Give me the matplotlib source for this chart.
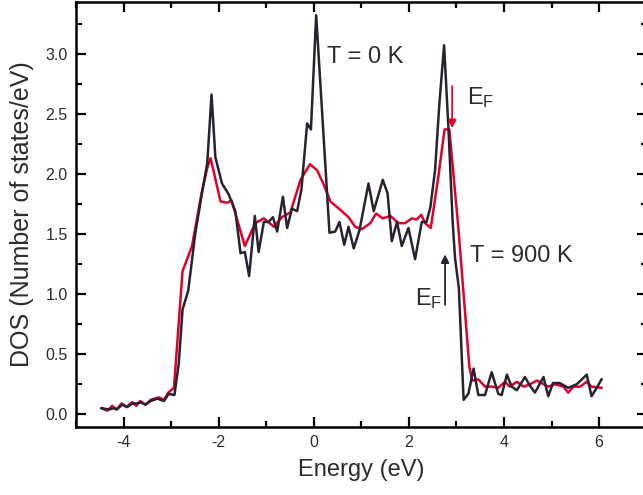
import matplotlib
matplotlib.use("Agg")
import matplotlib.pyplot as plt
from matplotlib.ticker import MultipleLocator

plt.rcParams['font.family'] = ['Liberation Sans', 'DejaVu Sans']
plt.rcParams['mathtext.fontset'] = 'custom'
plt.rcParams['mathtext.rm'] = 'Liberation Sans'
plt.rcParams['mathtext.it'] = 'Liberation Sans'
plt.rcParams['axes.unicode_minus'] = False

# T = 0 K (black)
e_0K = [-4.46, -4.31, -4.20, -4.14, -4.03, -3.92, -3.82, -3.71, -3.65, -3.54,
        -3.43, -3.29, -3.15, -3.05, -2.93, -2.84, -2.76, -2.64, -2.49, -2.35,
        -2.24, -2.15, -2.07, -1.93, -1.79, -1.65, -1.54, -1.45, -1.36, -1.24,
        -1.16, -1.05, -0.95, -0.86, -0.77, -0.65, -0.56, -0.46, -0.35, -0.26,
        -0.14, -0.06, 0.05, 0.33, 0.45, 0.54, 0.64, 0.73, 0.84, 0.96,
        1.15, 1.26, 1.45, 1.55, 1.64, 1.75, 1.85, 1.99, 2.13, 2.27,
        2.37, 2.45, 2.55, 2.64, 2.74, 2.83, 2.92, 2.97, 3.05, 3.15,
        3.25, 3.36, 3.46, 3.60, 3.74, 3.88, 3.95, 4.06, 4.16, 4.27,
        4.44, 4.54, 4.65, 4.83, 4.93, 5.03, 5.17, 5.35, 5.53, 5.74,
        5.84, 5.95, 6.05]
dos_0K = [0.05, 0.04, 0.05, 0.04, 0.08, 0.06, 0.09, 0.09, 0.10, 0.08,
          0.11, 0.13, 0.11, 0.17, 0.16, 0.42, 0.87, 1.03, 1.51, 1.84,
          2.09, 2.66, 2.14, 1.92, 1.83, 1.69, 1.34, 1.35, 1.15, 1.65,
          1.35, 1.60, 1.60, 1.64, 1.52, 1.81, 1.55, 1.71, 1.69, 1.87,
          2.42, 2.37, 3.32, 1.51, 1.52, 1.60, 1.41, 1.56, 1.38, 1.53,
          1.92, 1.69, 1.95, 1.84, 1.44, 1.60, 1.40, 1.55, 1.29, 1.60,
          1.60, 1.72, 2.03, 2.58, 3.07, 2.39, 1.60, 1.30, 1.05, 0.12,
          0.17, 0.38, 0.16, 0.16, 0.35, 0.17, 0.16, 0.33, 0.23, 0.20,
          0.31, 0.24, 0.18, 0.31, 0.15, 0.26, 0.26, 0.22, 0.25, 0.33,
          0.15, 0.22, 0.29]

# T = 900 K (red)
e_900K = [-4.46, -4.34, -4.24, -4.15, -4.04, -3.94, -3.82, -3.73, -3.65, -3.54,
          -3.43, -3.26, -3.15, -3.06, -2.94, -2.76, -2.56, -2.36, -2.24, -2.17,
          -1.96, -1.82, -1.73, -1.45, -1.23, -1.05, -0.84, -0.67, -0.49, -0.28,
          -0.08, 0.07, 0.21, 0.35, 0.56, 0.73, 0.87, 1.01, 1.19, 1.31,
          1.45, 1.61, 1.78, 1.92, 2.06, 2.16, 2.26, 2.34, 2.46, 2.62,
          2.75, 2.85, 3.04, 3.27, 3.33, 3.46, 3.60, 3.74, 3.88, 4.02,
          4.12, 4.27, 4.41, 4.55, 4.69, 4.93, 5.07, 5.25, 5.35, 5.46,
          5.60, 5.74, 5.84, 6.05]
dos_900K = [0.05, 0.03, 0.07, 0.04, 0.09, 0.06, 0.10, 0.07, 0.11, 0.08,
            0.12, 0.14, 0.12, 0.18, 0.22, 1.19, 1.40, 1.84, 2.05, 2.13,
            1.77, 1.76, 1.78, 1.40, 1.59, 1.63, 1.56, 1.64, 1.68, 1.95,
            2.08, 2.03, 1.91, 1.77, 1.70, 1.64, 1.56, 1.54, 1.59, 1.67,
            1.63, 1.65, 1.59, 1.59, 1.63, 1.62, 1.66, 1.59, 1.55, 1.98,
            2.37, 2.37, 1.55, 0.40, 0.28, 0.29, 0.23, 0.23, 0.22, 0.27,
            0.23, 0.27, 0.23, 0.25, 0.28, 0.23, 0.25, 0.23, 0.18, 0.23,
            0.23, 0.27, 0.23, 0.22]

BLACK = '#2a2230'
RED = '#e0002a'
TXT = '#2e2a30'

fig = plt.figure(figsize=(6.43, 4.95), dpi=100)
ax = fig.add_axes([76/643, 1 - 427/495, (646.7 - 76)/643, (427 - 2)/495])

ax.plot(e_900K, dos_900K, color=RED, lw=1.8, zorder=2)
ax.plot(e_0K, dos_0K, color=BLACK, lw=1.8, zorder=3)

ax.set_xlim(-5, 7)
ax.set_ylim(-0.106, 3.43)
ax.xaxis.set_major_locator(MultipleLocator(2))
ax.xaxis.set_minor_locator(MultipleLocator(1))
ax.yaxis.set_major_locator(MultipleLocator(0.5))
ax.yaxis.set_minor_locator(MultipleLocator(0.25))
ax.yaxis.set_major_formatter(matplotlib.ticker.FormatStrFormatter('%.1f'))
ax.tick_params(which='both', direction='in', top=True, right=True,
               width=1.6, colors='black', labelcolor=TXT, labelsize=11.5)
ax.tick_params(which='major', length=7, pad=6)
ax.tick_params(which='minor', length=4.5)
for s in ax.spines.values():
    s.set_linewidth(1.8)

ax.set_xlabel('Energy (eV)', fontsize=17, color=TXT, labelpad=6)
ax.set_ylabel('DOS (Number of states/eV)', fontsize=18, color=TXT, labelpad=8)

ax.text(0.28, 2.925, 'T = 0 K', fontsize=17, color=TXT)
ax.text(3.29, 1.27, 'T = 900 K', fontsize=17, color=TXT)
ax.text(3.22, 2.58, r'E$_\mathrm{F}$', fontsize=17, color=TXT)
ax.text(2.13, 0.91, r'E$_\mathrm{F}$', fontsize=17, color=TXT)

ax.annotate('', xy=(2.91, 2.38), xytext=(2.91, 2.73),
            arrowprops=dict(arrowstyle='-|>', color=RED, lw=1.3,
                            mutation_scale=12, shrinkA=0, shrinkB=0))
ax.annotate('', xy=(2.76, 1.33), xytext=(2.76, 0.91),
            arrowprops=dict(arrowstyle='-|>', color=BLACK, lw=1.3,
                            mutation_scale=12, shrinkA=0, shrinkB=0))

fig.savefig('out.png', dpi=100)
